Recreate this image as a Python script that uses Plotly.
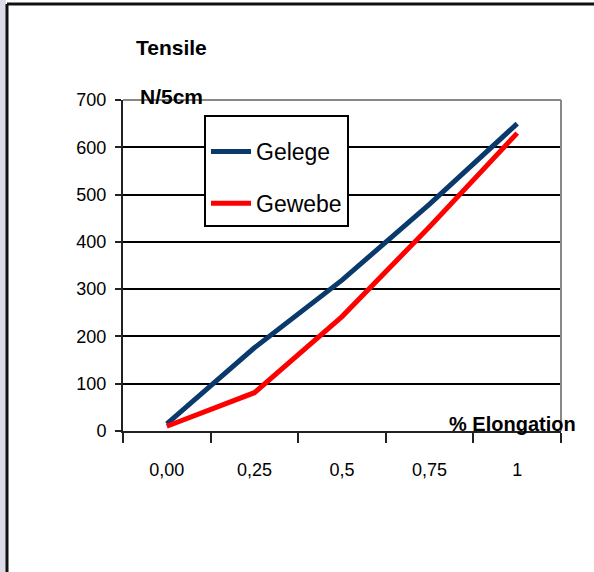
import plotly.graph_objects as go

categories = ["0,00", "0,25", "0,5", "0,75", "1"]
gelege = [15, 176, 319, 480, 650]
gewebe = [10, 81, 242, 432, 630]

y_ticks = [0, 100, 200, 300, 400, 500, 600, 700]

FONT = "Liberation Sans, Arial, sans-serif"

fig = go.Figure()
fig.add_trace(go.Scatter(x=categories, y=gelege, mode="lines", name="Gelege",
                         legendgroup="a",
                         line=dict(color="#0a3a6b", width=5)))
fig.add_trace(go.Scatter(x=categories, y=gewebe, mode="lines", name="Gewebe",
                         legendgroup="b",
                         line=dict(color="#ff0000", width=5)))

W, H = 594, 572
L, R, T, B = 123, 561, 100, 431


def px(x):
    return (x - L) / (R - L)


def py(y):
    return (B - y) / (B - T)


shapes = [
    dict(type="rect", xref="paper", yref="paper", x0=px(-2), x1=px(6), y0=py(580), y1=py(-2),
         fillcolor="#dcdce8", line=dict(width=0), layer="below"),
    dict(type="line", xref="paper", yref="paper", x0=px(7), x1=px(7), y0=py(580), y1=py(4),
         line=dict(color="#111111", width=3)),
    dict(type="line", xref="paper", yref="paper", x0=px(7), x1=px(600), y0=py(4), y1=py(4),
         line=dict(color="#111111", width=3)),
    dict(type="line", xref="paper", yref="paper", x0=0, x1=1, y0=1, y1=1,
         line=dict(color="#888888", width=2)),
    dict(type="line", xref="paper", yref="paper", x0=1, x1=1, y0=0, y1=1,
         line=dict(color="#888888", width=2)),
]

annotations = [
    dict(text="<b>Tensile</b>", xref="paper", yref="paper", x=px(171), y=py(48),
         showarrow=False, font=dict(family=FONT, size=21, color="black"),
         xanchor="center", yanchor="middle"),
    dict(text="<b>N/5cm</b>", xref="paper", yref="paper", x=px(171), y=py(96),
         showarrow=False, font=dict(family=FONT, size=21, color="black"),
         xanchor="center", yanchor="middle"),
    dict(text="<b>% Elongation</b>", xref="paper", yref="paper", x=px(512), y=py(424),
         showarrow=False, font=dict(family=FONT, size=20, color="black"),
         xanchor="center", yanchor="middle"),
]

fig.update_layout(
    width=W, height=H,
    margin=dict(l=L, r=W - R, t=T, b=H - B, autoexpand=False),
    paper_bgcolor="white", plot_bgcolor="white",
    font=dict(family=FONT, color="black"),
    showlegend=True,
    legend=dict(x=px(204), y=py(115), xanchor="left", yanchor="top",
                bgcolor="white", bordercolor="black", borderwidth=2,
                font=dict(family=FONT, size=23, color="black"),
                title=dict(text=" ", font=dict(size=10)),
                tracegroupgap=19, itemwidth=40),
    xaxis=dict(type="category", range=[-0.5, 4.5], tickson="boundaries",
               ticks="outside", ticklen=10, tickwidth=2, tickcolor="#222",
               showline=True, linecolor="#222", linewidth=2,
               showgrid=False, tickfont=dict(family=FONT, size=18),
               ticklabelstandoff=21, fixedrange=True),
    yaxis=dict(range=[0, 700], tickvals=y_ticks, ticks="outside", ticklen=6,
               tickwidth=2, tickcolor="#222", showline=True, linecolor="#222",
               linewidth=2, showgrid=True, gridcolor="black", gridwidth=2,
               zeroline=False, tickfont=dict(family=FONT, size=18),
               ticklabelstandoff=5, fixedrange=True),
    shapes=shapes,
    annotations=annotations,
)

fig.write_html("out.html", config={"displayModeBar": False},
               post_script="document.body.style.margin='0';document.body.style.overflow='hidden';")
